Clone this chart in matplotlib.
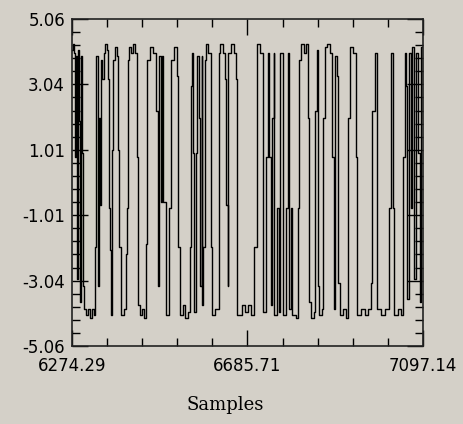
import numpy as np
import matplotlib
matplotlib.use('Agg')
import matplotlib.pyplot as plt
from matplotlib.ticker import FixedLocator

# Signal: sample where the level changes, and the level it holds
samples = [6274, 6277, 6279, 6281, 6284, 6286, 6288, 6291, 6293, 6295, 6298, 6300,
           6302, 6307, 6312, 6317, 6321, 6326, 6328, 6331, 6335, 6338, 6340, 6342,
           6345, 6350, 6352, 6357, 6359, 6361, 6364, 6366, 6368, 6371, 6375, 6380,
           6382, 6385, 6389, 6397, 6401, 6404, 6406, 6408, 6413, 6418, 6422, 6427,
           6429, 6434, 6439, 6444, 6448, 6451, 6458, 6465, 6472, 6476, 6479, 6484,
           6486, 6488, 6495, 6502, 6507, 6514, 6521, 6523, 6528, 6535, 6540, 6547,
           6552, 6554, 6556, 6559, 6561, 6566, 6568, 6573, 6575, 6578, 6580, 6582,
           6585, 6589, 6594, 6599, 6601, 6603, 6610, 6618, 6620, 6622, 6629, 6634,
           6636, 6639, 6641, 6646, 6653, 6658, 6660, 6662, 6672, 6679, 6686, 6693,
           6702, 6707, 6709, 6716, 6721, 6723, 6730, 6733, 6735, 6740, 6742, 6747,
           6749, 6754, 6759, 6763, 6768, 6770, 6775, 6780, 6784, 6787, 6791, 6799,
           6803, 6806, 6810, 6817, 6822, 6827, 6829, 6834, 6841, 6843, 6848, 6850,
           6853, 6860, 6862, 6867, 6871, 6878, 6883, 6888, 6890, 6895, 6897, 6902,
           6909, 6916, 6921, 6926, 6933, 6940, 6942, 6951, 6961, 6968, 6975, 6977,
           6984, 6989, 6998, 7008, 7017, 7022, 7027, 7029, 7038, 7045, 7050, 7055,
           7057, 7060, 7064, 7069, 7071, 7076, 7081, 7085, 7090, 7092, 7097]
levels = [4.1, 4.3, 4.0, 0.8, 3.9, -3.0, 4.1, 1.9, -3.7, 3.9, 0.9, -3.2,
          -3.9, -4.1, -3.9, -4.2, -3.9, -4.1, -2.0, 3.9, -3.2, 2.0, -0.7, 3.8,
          3.2, 4.0, 4.3, 4.1, 3.2, -0.8, -2.1, -4.1, 1.0, 3.8, 4.2, 3.9,
          1.0, -2.0, -4.1, -3.9, -2.2, -0.8, 3.8, 4.2, 4.0, 4.3, 4.0, 0.8,
          -3.8, -4.1, -3.9, -4.2, -1.9, 3.8, 4.2, 4.0, 2.2, -3.2, 3.9, -0.6,
          3.9, -0.6, -4.1, -0.8, 3.8, 4.2, 3.3, -2.0, -4.1, -3.8, -4.2, -4.0,
          -2.0, 3.0, 4.0, 0.9, -4.0, 0.9, 3.9, 2.0, -3.2, 3.9, -3.8, -2.0,
          3.8, 4.3, 4.0, 3.2, -2.0, -4.1, -3.9, -0.7, 4.0, 4.3, 4.0, 3.2,
          -0.7, -3.2, 4.0, 4.3, 4.0, 3.2, -2.8, -4.1, -3.8, -4.0, -3.8, -4.1,
          -2.0, 2.0, 4.3, 4.0, 0.8, -4.0, 0.8, 4.0, 0.8, -3.8, 2.0, 4.0,
          -4.1, -0.8, -4.0, 4.0, -3.2, -4.1, -0.8, 4.0, -3.9, -0.8, -4.1, -4.2,
          -0.8, 3.8, 4.3, 4.0, 4.3, 2.0, -3.7, -4.2, -4.0, 2.2, 4.1, -3.2,
          -4.1, -3.9, 2.0, 4.2, 4.3, 4.0, 0.8, -3.9, 3.9, 3.3, -3.1, -4.1,
          -3.9, -4.2, 2.0, 4.2, 4.0, 0.8, -4.1, -3.9, -4.1, -3.9, -3.1, 2.2,
          4.0, -3.9, -4.1, -3.9, -0.8, 4.0, -0.8, -4.1, -3.9, -4.1, 0.8, 4.0,
          3.0, -3.6, 4.0, -0.8, 4.2, -3.0, 4.0, 0.9, -3.7, 4.2, 2.0]

x_ticks = [6274.29, 6685.71, 7097.14]
x_labels = ['6274.29', '6685.71', '7097.14']
y_ticks = [-5.06, -3.036, -1.012, 1.012, 3.036, 5.06]
y_labels = ['-5.06', '-3.04', '-1.01', '1.01', '3.04', '5.06']

bg = '#d4d0c8'

fig = plt.figure(figsize=(4.63, 4.24), dpi=100, facecolor=bg)
ax = fig.add_axes([72 / 463, 1 - 346 / 424, 351 / 463, 327 / 424], facecolor=bg)

ax.step(samples, levels, where='post', color='black', linewidth=1.0)

ax.set_xlim(x_ticks[0], x_ticks[-1])
ax.set_ylim(y_ticks[0], y_ticks[-1])

ax.set_xticks(x_ticks)
ax.set_xticklabels(x_labels)
ax.set_yticks(y_ticks)
ax.set_yticklabels(y_labels)
x_minor = np.linspace(x_ticks[0], x_ticks[-1], 11)
y_minor = np.linspace(y_ticks[0], y_ticks[-1], 26)
ax.xaxis.set_minor_locator(FixedLocator(x_minor))
ax.yaxis.set_minor_locator(FixedLocator(y_minor))

ax.tick_params(which='both', direction='in', top=True, right=True,
               color='black', width=1.0)
ax.tick_params(which='major', length=11.5)
ax.tick_params(which='minor', length=5.8)
ax.tick_params(axis='y', labelsize=12, pad=5)
ax.tick_params(axis='x', labelsize=12, pad=8)
for lab in ax.get_xticklabels() + ax.get_yticklabels():
    lab.set_fontfamily('DejaVu Sans')

for s in ax.spines.values():
    s.set_linewidth(1.2)
    s.set_color('#222222')

fig.text(225 / 463, 1 - 405 / 424, 'Samples', family='DejaVu Serif',
         fontsize=13, ha='center', va='center')

fig.savefig('out.png', dpi=100, facecolor=bg)
